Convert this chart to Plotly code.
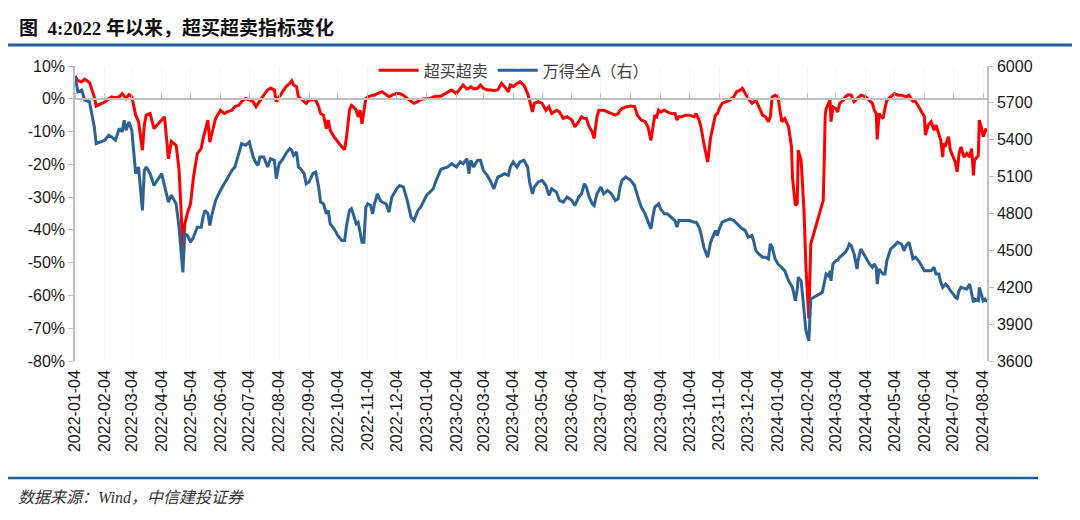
import plotly.graph_objects as go

# ---------------- data ----------------
dates = [
    "2022-01-04", "2022-01-07", "2022-01-11", "2022-01-14", "2022-01-19", "2022-01-24", "2022-01-26",
    "2022-02-04", "2022-02-08", "2022-02-11", "2022-02-15", "2022-02-19", "2022-02-22", "2022-02-24", "2022-02-26",
    "2022-03-01", "2022-03-04", "2022-03-08", "2022-03-11", "2022-03-15", "2022-03-17", "2022-03-19", "2022-03-23", "2022-03-27",
    "2022-04-04", "2022-04-07", "2022-04-11", "2022-04-14", "2022-04-19", "2022-04-22", "2022-04-24", "2022-04-26", "2022-04-28",
    "2022-05-01", "2022-05-04", "2022-05-07", "2022-05-11", "2022-05-15", "2022-05-17", "2022-05-19", "2022-05-22", "2022-05-24", "2022-05-26", "2022-05-30",
    "2022-06-04", "2022-06-08", "2022-06-11", "2022-06-16", "2022-06-19", "2022-06-23", "2022-06-26", "2022-06-30",
    "2022-07-04", "2022-07-08", "2022-07-11", "2022-07-13", "2022-07-15", "2022-07-19", "2022-07-23", "2022-07-26", "2022-07-30",
    "2022-08-01", "2022-08-04", "2022-08-08", "2022-08-11", "2022-08-15", "2022-08-17", "2022-08-19", "2022-08-22", "2022-08-24", "2022-08-26", "2022-08-30",
    "2022-09-01", "2022-09-04", "2022-09-08", "2022-09-11", "2022-09-14", "2022-09-16", "2022-09-19", "2022-09-22", "2022-09-24", "2022-09-26", "2022-09-30",
    "2022-10-04", "2022-10-08", "2022-10-11", "2022-10-13", "2022-10-16", "2022-10-18", "2022-10-20", "2022-10-23", "2022-10-25", "2022-10-27", "2022-10-29", "2022-10-31",
    "2022-11-02", "2022-11-04", "2022-11-07", "2022-11-09", "2022-11-11", "2022-11-14", "2022-11-17", "2022-11-19", "2022-11-23", "2022-11-26", "2022-11-29",
    "2022-12-04", "2022-12-07", "2022-12-11", "2022-12-15", "2022-12-19", "2022-12-22", "2022-12-26", "2022-12-29",
    "2023-01-04", "2023-01-08", "2023-01-11", "2023-01-14", "2023-01-19", "2023-01-26", "2023-01-30",
    "2023-02-04", "2023-02-08", "2023-02-11", "2023-02-15", "2023-02-17", "2023-02-19", "2023-02-22", "2023-02-26",
    "2023-03-01", "2023-03-04", "2023-03-08", "2023-03-11", "2023-03-15", "2023-03-19", "2023-03-23", "2023-03-26", "2023-03-30",
    "2023-04-01", "2023-04-04", "2023-04-08", "2023-04-11", "2023-04-15", "2023-04-19", "2023-04-21", "2023-04-24", "2023-04-26", "2023-04-30",
    "2023-05-04", "2023-05-08", "2023-05-11", "2023-05-14", "2023-05-19", "2023-05-22", "2023-05-26", "2023-05-30",
    "2023-06-04", "2023-06-07", "2023-06-11", "2023-06-14", "2023-06-17", "2023-06-19", "2023-06-22", "2023-06-25", "2023-06-27", "2023-06-30",
    "2023-07-02", "2023-07-04", "2023-07-07", "2023-07-11", "2023-07-15", "2023-07-19", "2023-07-22", "2023-07-24", "2023-07-26", "2023-07-30",
    "2023-08-04", "2023-08-08", "2023-08-11", "2023-08-15", "2023-08-19", "2023-08-22", "2023-08-25", "2023-08-27", "2023-08-29", "2023-08-31",
    "2023-09-02", "2023-09-04", "2023-09-08", "2023-09-11", "2023-09-15", "2023-09-19", "2023-09-21", "2023-09-23", "2023-09-26", "2023-09-30",
    "2023-10-04", "2023-10-09", "2023-10-11", "2023-10-14", "2023-10-16", "2023-10-19", "2023-10-23", "2023-10-26", "2023-10-29", "2023-10-31",
    "2023-11-02", "2023-11-04", "2023-11-07", "2023-11-11", "2023-11-15", "2023-11-19", "2023-11-22", "2023-11-26", "2023-11-28",
    "2023-12-01", "2023-12-04", "2023-12-08", "2023-12-10", "2023-12-12", "2023-12-15", "2023-12-19", "2023-12-22", "2023-12-25", "2023-12-27", "2023-12-29",
    "2024-01-01", "2024-01-04", "2024-01-06", "2024-01-08", "2024-01-11", "2024-01-15", "2024-01-18", "2024-01-19", "2024-01-22", "2024-01-24", "2024-01-25", "2024-01-28", "2024-01-29", "2024-01-31",
    "2024-02-02", "2024-02-05", "2024-02-07", "2024-02-19", "2024-02-20", "2024-02-21", "2024-02-22", "2024-02-23", "2024-02-26", "2024-02-27", "2024-02-28",
    "2024-03-01", "2024-03-04", "2024-03-06", "2024-03-08", "2024-03-12", "2024-03-14", "2024-03-16", "2024-03-18", "2024-03-20", "2024-03-23", "2024-03-26", "2024-03-27", "2024-03-30",
    "2024-04-04", "2024-04-08", "2024-04-11", "2024-04-13", "2024-04-15", "2024-04-16", "2024-04-18", "2024-04-19", "2024-04-22", "2024-04-24", "2024-04-26", "2024-04-30",
    "2024-05-04", "2024-05-07", "2024-05-11", "2024-05-14", "2024-05-16", "2024-05-19", "2024-05-22", "2024-05-23", "2024-05-26", "2024-05-30",
    "2024-06-04", "2024-06-05", "2024-06-08", "2024-06-11", "2024-06-14", "2024-06-16", "2024-06-19", "2024-06-21", "2024-06-23", "2024-06-24", "2024-06-26", "2024-06-29",
    "2024-07-01", "2024-07-04", "2024-07-06", "2024-07-08", "2024-07-10", "2024-07-12", "2024-07-15", "2024-07-18", "2024-07-21", "2024-07-23", "2024-07-25", "2024-07-26", "2024-07-29", "2024-07-30", "2024-07-31",
    "2024-08-02", "2024-08-04", "2024-08-06", "2024-08-07", "2024-08-08",
]

# 超买超卖 (%), left axis
overbought_oversold = [
    6.9, 5.5, 5.2, 6.0, 5.0, 0.6, -2.2,
    -1.0, 0.0, 0.6, 0.3, 0.6, 1.6, 1.0, 0.1,
    1.3, 0.6, -5.0, -7.0, -15.7, -8.0, -5.0, -4.5, -9.1,
    -6.5, -5.5, -18.3, -13.0, -14.2, -21.5, -33.0, -46.8, -38.2,
    -34.6, -32.0, -24.0, -16.7, -15.2, -12.2, -9.6, -6.5, -13.2, -10.6, -6.0,
    -3.5, -4.5, -4.0, -3.5, -2.4, -2.0, -0.9, 0.1,
    -0.4, -0.9, -2.4, -1.5, -0.4, 1.1, 2.7, 3.2, 2.7,
    -0.9, 0.6, 2.5, 3.7, 4.7, 5.5, 4.2, 3.7, 0.6, 0.1, -0.9,
    -1.4, -0.4, -0.4, -0.4, -2.4, -4.5, -5.0, -9.1, -6.5, -9.6, -11.6,
    -13.2, -14.7, -15.5, -11.6, -3.5, -2.0, -2.4, -3.5, -5.5, -3.5, -7.6, -3.5,
    0.1, 0.6, 1.0, 1.1, 1.1, 1.6, 2.0, 2.1, 1.1, 0.6, 1.1,
    1.6, 1.6, 1.1, 0.1, -0.9, -1.4, -0.9, -0.2,
    0.1, 0.1, 0.6, 0.8, 0.8, 2.1, 2.7,
    1.6, 3.2, 4.2, 3.0, 3.2, 3.7, 3.0, 3.2,
    4.2, 3.2, 2.7, 2.7, 2.5, 2.7, 4.7, 3.7, 2.1,
    4.2, 3.7, 4.7, 5.2, 4.2, 1.6, -0.4, -4.0, -1.4, -0.9,
    -1.4, -3.5, -2.4, -4.5, -3.5, -4.0, -6.0, -5.5,
    -6.5, -8.6, -7.0, -5.5, -6.0, -6.0, -8.6, -10.1, -12.1, -5.5,
    -3.5, -3.5, -3.5, -4.0, -4.5, -5.0, -4.5, -3.5, -3.0, -2.5,
    -2.2, -2.4, -5.0, -6.5, -7.0, -8.6, -12.7, -8.6, -5.0, -5.5,
    -3.5, -4.0, -3.5, -4.0, -4.5, -4.5, -6.5, -5.5, -5.5, -5.0,
    -5.0, -5.5, -4.5, -6.5, -8.6, -13.7, -19.3, -11.8, -7.6, -5.0,
    -4.5, -3.0, -1.4, -0.9, -0.4, 0.6, 2.1, 2.7, 3.2,
    1.6, 0.1, -1.4, -0.9, -0.4, -2.4, -5.0, -5.5, -7.0, -5.5, 0.6,
    1.1, 0.6, -3.5, -7.0, -6.0, -8.6, -14.7, -23.9, -32.5, -32.0, -15.7, -18.8, -23.9, -34.1,
    -51.5, -67.0, -44.3, -32.6, -31.0, -18.8, -5.0, -3.0, -1.0, -0.4, -7.0,
    -2.5, -3.0, -4.0, -1.4, -0.4, 0.6, 1.1, 1.2, 1.1, -0.9, 0.1, 0.1, 1.1,
    0.6, -0.4, -1.4, -3.5, -4.5, -12.4, -4.5, -5.0, -6.0, -3.0, -0.4, 0.6,
    1.6, 1.1, 1.1, 0.8, 0.6, 1.1, -0.4, -0.7, -0.9, -3.0,
    -5.5, -11.1, -8.0, -7.0, -9.6, -8.0, -10.6, -12.7, -17.8, -13.7, -14.2, -11.6,
    -15.7, -17.8, -19.3, -22.3, -16.7, -14.7, -17.8, -16.7, -17.8, -15.2, -23.4, -18.8, -17.8, -17.3, -6.5,
    -8.6, -11.6, -9.6, -9.1, -10.1,
]

# 万得全A (右), right axis
wind_all_a = [
    5918, 5790, 5804, 5722, 5709, 5505, 5369,
    5396, 5437, 5423, 5396, 5491, 5464, 5559, 5477,
    5545, 5477, 5124, 5178, 4825, 5150, 5178, 5124, 5028,
    5124, 5015, 4893, 4950, 4879, 4690, 4525, 4321, 4634,
    4620, 4566, 4607, 4689, 4689, 4770, 4825, 4800, 4702, 4784, 4906,
    4988, 5042, 5083, 5151, 5178, 5287, 5369, 5355,
    5382, 5260, 5210, 5192, 5260, 5260, 5178, 5246, 5233,
    5083, 5205, 5246, 5287, 5328, 5315, 5273, 5300, 5178, 5165, 5124,
    5042, 5056, 5124, 5137, 5015, 4893, 4879, 4797, 4825, 4716, 4675,
    4620, 4580, 4580, 4702, 4825, 4840, 4797, 4716, 4729, 4634, 4566, 4566,
    4852, 4879, 4865, 4797, 4879, 4960, 4906, 4893, 4879, 4811, 4933,
    5001, 5028, 5015, 4906, 4770, 4743, 4825, 4852,
    4947, 4974, 5001, 5069, 5160, 5178, 5205,
    5178, 5220, 5205, 5246, 5124, 5233, 5178, 5233,
    5233, 5151, 5110, 5069, 5001, 5097, 5110, 5124, 5110,
    5178, 5219, 5178, 5219, 5233, 5178, 5056, 4960, 5015, 5056,
    5069, 5028, 4947, 5001, 4974, 4906, 4893, 4933,
    4906, 4865, 4933, 4960, 5042, 5015, 4933, 4880, 4865, 4960,
    4990, 5015, 4960, 4988, 4960, 4906, 4920, 5015, 5069, 5097,
    5070, 5028, 4947, 4852, 4797, 4743, 4675, 4770, 4852, 4865,
    4879, 4838, 4797, 4797, 4770, 4743, 4689, 4743, 4743, 4743,
    4743, 4729, 4729, 4689, 4634, 4525, 4444, 4566, 4634, 4661,
    4620, 4675, 4729, 4743, 4756, 4743, 4716, 4689, 4675,
    4661, 4607, 4620, 4566, 4498, 4471, 4444, 4444, 4430, 4552, 4525,
    4430, 4389, 4375, 4362, 4335, 4253, 4220, 4199, 4090, 4185, 4281, 4253, 4172, 3981,
    3845, 3764, 4104, 4158, 4200, 4240, 4280, 4308, 4290, 4335, 4253,
    4389, 4416, 4420, 4444, 4471, 4485, 4510, 4552, 4539, 4471, 4348, 4416, 4512,
    4444, 4390, 4362, 4390, 4360, 4226, 4348, 4335, 4308, 4308, 4416, 4512,
    4539, 4566, 4552, 4498, 4539, 4566, 4471, 4430, 4444, 4403,
    4335, 4335, 4335, 4335, 4362, 4308, 4308, 4240, 4199, 4210, 4226, 4199,
    4172, 4144, 4120, 4110, 4172, 4199, 4190, 4185, 4226, 4150, 4077, 4104, 4090, 4090, 4199,
    4144, 4090, 4104, 4090, 4090,
]

assert len(dates) == len(overbought_oversold) == len(wind_all_a)

x_tick_labels = [
    "2022-01-04", "2022-02-04", "2022-03-04", "2022-04-04", "2022-05-04", "2022-06-04",
    "2022-07-04", "2022-08-04", "2022-09-04", "2022-10-04", "2022-11-04", "2022-12-04",
    "2023-01-04", "2023-02-04", "2023-03-04", "2023-04-04", "2023-05-04", "2023-06-04",
    "2023-07-04", "2023-08-04", "2023-09-04", "2023-10-04", "2023-11-04", "2023-12-04",
    "2024-01-04", "2024-02-04", "2024-03-04", "2024-04-04", "2024-05-04", "2024-06-04",
    "2024-07-04", "2024-08-04",
]
left_tick_vals = [10, 0, -10, -20, -30, -40, -50, -60, -70, -80]
left_tick_text = ["10%", "0%", "-10%", "-20%", "-30%", "-40%", "-50%", "-60%", "-70%", "-80%"]
right_tick_vals = [6000, 5700, 5400, 5100, 4800, 4500, 4200, 3900, 3600]
right_tick_text = ["6000", "5700", "5400", "5100", "4800", "4500", "4200", "3900", "3600"]

title_text = "图  4:2022 年以来，超买超卖指标变化"
source_text = "数据来源：Wind，中信建投证券"
name_red = "超买超卖"
name_blue = "万得全A（右）"

# ---------------- figure ----------------
RED = "#ff0000"
BLUE = "#2c6296"
AXIS = "#bfbfbf"
TICK_FONT = dict(family="Liberation Sans, Arial, sans-serif", size=16, color="#1a1a1a")

fig = go.Figure()
fig.add_trace(go.Scatter(x=dates, y=overbought_oversold, name=name_red, mode="lines",
                         line=dict(color=RED, width=3), xaxis="x", yaxis="y"))
fig.add_trace(go.Scatter(x=dates, y=wind_all_a, name=name_blue, mode="lines",
                         line=dict(color=BLUE, width=3), xaxis="x", yaxis="y2"))
# empty helper trace so the zero-level category axis is drawn
fig.add_trace(go.Scatter(x=[], y=[], xaxis="x2", yaxis="y", showlegend=False, hoverinfo="skip"))

x_range = ["2022-01-04", "2024-08-08"]

# the page body has an 8px default margin, so the figure is 8px smaller on each axis
fig.update_layout(
    width=1072, height=512,
    margin=dict(l=67, r=93, t=58, b=159),
    paper_bgcolor="white", plot_bgcolor="white",
    showlegend=True,
    legend=dict(orientation="h", x=0.481, xanchor="center", y=0.985, yanchor="middle",
                bgcolor="rgba(255,255,255,0)",
                font=dict(family="Noto Sans CJK SC, sans-serif", size=16, color="#404040"),
                itemwidth=40),
    xaxis=dict(type="date", range=x_range, tickvals=x_tick_labels, ticktext=x_tick_labels,
               tickangle=-90, tickfont=TICK_FONT, showline=False, ticks="",
               showgrid=True, gridcolor="#f4f4f4", gridwidth=1, zeroline=False,
               ticklabelstandoff=5),
    xaxis2=dict(type="date", range=x_range, overlaying="x", anchor="free", position=80 / 90,
                side="top", tickvals=x_tick_labels, showticklabels=False,
                ticks="outside", ticklen=5, tickcolor=AXIS, tickwidth=1.3,
                showline=True, linecolor=AXIS, linewidth=1.5, showgrid=False, zeroline=False),
    yaxis=dict(range=[-80, 10], tickvals=left_tick_vals, ticktext=left_tick_text,
               tickfont=TICK_FONT, showline=True, linecolor=AXIS, linewidth=1.5,
               ticks="outside", ticklen=5, tickcolor=AXIS, tickwidth=1.3,
               showgrid=False, zeroline=False),
    yaxis2=dict(range=[3600, 6000], overlaying="y", side="right", tickvals=right_tick_vals,
                ticktext=right_tick_text, tickfont=TICK_FONT, showline=True, linecolor=AXIS,
                linewidth=1.5, ticks="outside", ticklen=5, tickcolor=AXIS, tickwidth=1.3,
                showgrid=False, zeroline=False),
)

# screen pixel -> paper helpers for decorations (plot area on screen: x 75..987, y 66..361)
PLOT_L, PLOT_W, PLOT_B, PLOT_H = 75, 912, 361, 295
def px(x):
    return (x - PLOT_L) / PLOT_W
def py(y):
    return (PLOT_B - y) / PLOT_H

fig.add_annotation(text="<b>" + title_text + "</b>", xref="paper", yref="paper",
                   x=px(17), y=py(28), xanchor="left", yanchor="middle", showarrow=False,
                   font=dict(family="Liberation Serif, Noto Sans CJK SC, serif", size=19, color="#111111"))
fig.add_annotation(text=source_text, xref="paper", yref="paper",
                   x=px(16), y=py(497), xanchor="left", yanchor="middle", showarrow=False,
                   font=dict(family="Liberation Serif, Noto Sans CJK SC, serif", size=16,
                             color="#333333", style="italic"))

fig.add_shape(type="line", xref="paper", yref="paper", x0=px(4), x1=px(1076), y0=py(45), y1=py(45),
              line=dict(color="#1f5f96", width=3))
fig.add_shape(type="line", xref="paper", yref="paper", x0=px(4), x1=px(1038), y0=py(478), y1=py(478),
              line=dict(color="#1f5f96", width=2.5))

fig.write_html("out.html")
